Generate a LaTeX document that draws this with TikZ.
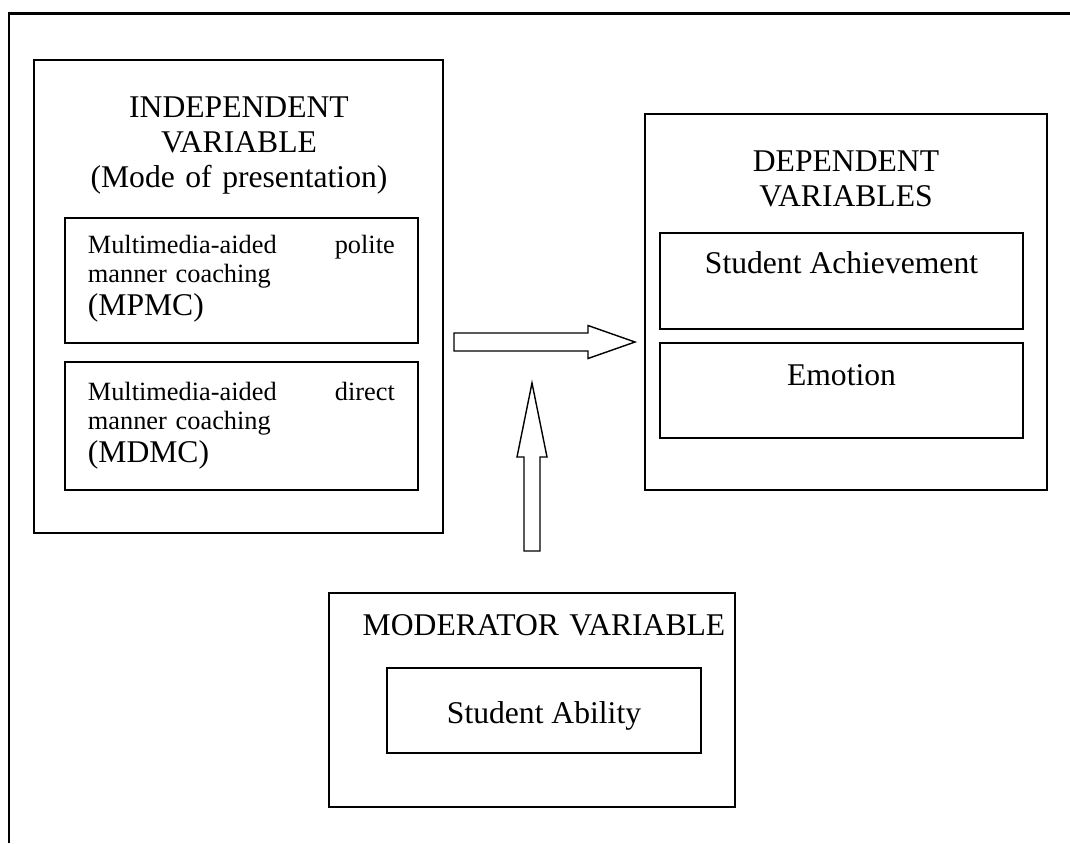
\documentclass[tikz,border=0pt]{standalone}
\usepackage{fontspec}
\setmainfont{Liberation Serif}
\usepackage{tikz}
\usetikzlibrary{positioning, calc}
\newcommand{\bigtext}{\fontsize{18}{20.2}\selectfont}
\newcommand{\smalltext}{\fontsize{15}{16.5}\selectfont}
\tikzset{
    x=0.02cm, y=-0.02cm, % one unit is one pixel of the layout, y runs downwards
    frame/.style={line width=1.7pt}, % the open outer frame
    bigbox/.style={draw, line width=1pt, inner sep=0pt}, % the three variable groups
    subbox/.style={draw, line width=1pt, inner sep=0pt}, % the boxes inside a group
    title/.style={font=\bigtext, align=center, text width=7.6cm, inner sep=0pt},
    coaching/.style={font=\smalltext, text width=6.14cm, align=left, inner xsep=0.46cm, inner ysep=0pt},
    result/.style={font=\bigtext, minimum width=7.26cm},
    blockarrow/.style={draw, line width=0.8pt, fill=white, line join=miter},
    }
\begin{document}
\begin{tikzpicture}

\useasboundingbox (0,0) rectangle (1070,843);
\draw[frame] (9,843) -- (9,13) -- (1070,13);

\node[bigbox, minimum width=8.18cm, minimum height=9.46cm] (indep) at (238.5,296.5) {};
\node[title, anchor=base] (indeptitle) at (239,117) {INDEPENDENT\\VARIABLE\\(Mode of presentation)};
\node[subbox, coaching, anchor=base west, text height=0.7cm, text depth=1.8cm] (mpmc) at (64,253)
    {Multimedia-aided\hfill polite\\manner coaching\\[2.3pt]{\bigtext (MPMC)}};
\node[subbox, coaching, anchor=base west, text height=0.76cm, text depth=1.8cm] (mdmc) at (64,400)
    {Multimedia-aided\hfill direct\\manner coaching\\[2.3pt]{\bigtext (MDMC)}};

\node[bigbox, minimum width=8.04cm, minimum height=7.52cm] (dep) at (846,302) {};
\node[title, anchor=base] (deptitle) at (846,171) {DEPENDENT\\VARIABLES};
\node[subbox, result, anchor=base, text height=0.8cm, text depth=1.12cm] (achieve) at (841.5,273) {Student Achievement};
\node[subbox, result, anchor=base, text height=0.84cm, text depth=1.06cm] (emotion) at (841.5,385) {Emotion};

\node[bigbox, minimum width=8.12cm, minimum height=4.28cm] (moder) at (532,700) {};
\node[title, anchor=base] (modtitle) at (544,635) {MODERATOR VARIABLE};
\node[subbox, result, minimum width=6.28cm, anchor=base, text height=1.1cm, text depth=0.6cm] (ability) at (544,723) {Student Ability};

\coordinate (rtail) at (454,342);
\coordinate (rtip) at (635,342);
\draw[blockarrow] ($(rtail)+(0,-9)$) -- ($(rtip)+(-47,-9)$) -- ($(rtip)+(-47,-16.5)$) -- (rtip)
    -- ($(rtip)+(-47,16.5)$) -- ($(rtip)+(-47,9)$) -- ($(rtail)+(0,9)$) -- cycle;

\coordinate (utail) at (532,551);
\coordinate (utip) at (532,383);
\draw[blockarrow] ($(utail)+(-8,0)$) -- ($(utip)+(-8,74)$) -- ($(utip)+(-15,74)$) -- (utip)
    -- ($(utip)+(15,74)$) -- ($(utip)+(8,74)$) -- ($(utail)+(8,0)$) -- cycle;

\end{tikzpicture}
\end{document}
